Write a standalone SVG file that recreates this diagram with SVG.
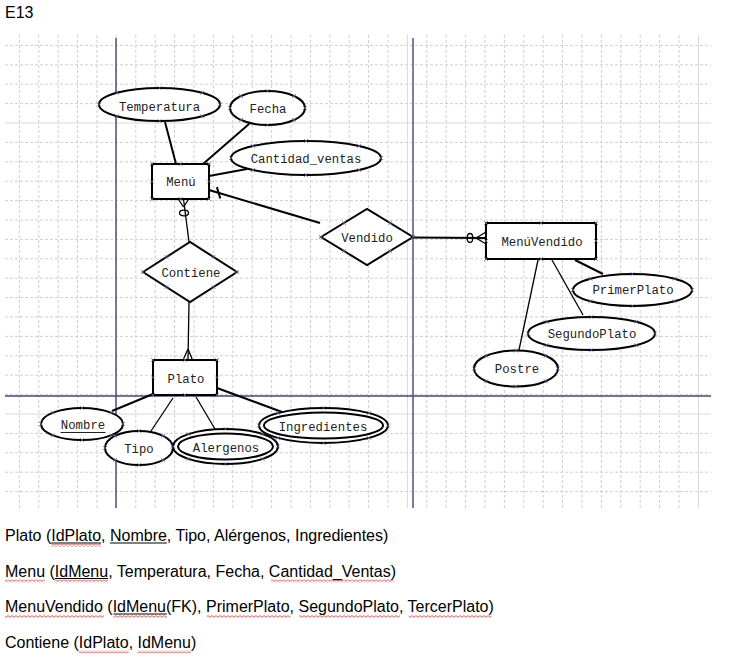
<svg xmlns="http://www.w3.org/2000/svg" xmlns:xlink="http://www.w3.org/1999/xlink" width="731" height="661" viewBox="0 0 731 661">
<style>
.gmin{stroke:#cfcfcf;stroke-width:1;stroke-dasharray:3 2;fill:none}
.gmaj{stroke:#d9d9d9;stroke-width:1;fill:none}
.blue{stroke:#474778;stroke-width:1.4;fill:none}
.s{fill:#fff;stroke:#000;stroke-width:2}
.l{stroke:#000;stroke-width:2;fill:none}
.th{stroke:#000;stroke-width:1.3;fill:none}
.cp{stroke:#6464a8;stroke-width:0.7;fill:none}
.d{font-family:"Liberation Mono","Courier New",monospace;font-size:12.3px;fill:#222;text-anchor:middle}
.t{font-family:"Liberation Sans",Arial,sans-serif;font-size:16px;fill:#000}
</style>
<defs>
<path id="cp" class="cp" d="M-2-2l4 4m0-4l-4 4"/>
<pattern id="wavy" patternUnits="userSpaceOnUse" width="4" height="3">
<path d="M0 0.6L2 2.4L4 0.6" stroke="#e02020" stroke-width="0.8" fill="none"/>
</pattern>
</defs>
<rect width="731" height="661" fill="#fff"/>
<g id="grid">
<path class="gmin" d="M19.4 35V508M38.8 35V508M58.2 35V508M77.6 35V508M97 35V508M135.8 35V508M155.2 35V508M174.6 35V508M194 35V508M213.4 35V508M232.8 35V508M252.2 35V508M271.6 35V508M291 35V508M310.4 35V508M329.8 35V508M349.2 35V508M368.6 35V508M388 35V508M426.8 35V508M446.2 35V508M465.6 35V508M485 35V508M504.4 35V508M523.8 35V508M543.2 35V508M562.6 35V508M582 35V508M601.4 35V508M620.8 35V508M640.2 35V508M659.6 35V508M679 35V508"/>
<path class="gmin" d="M5 45.4H711M5 64.8H711M5 84.2H711M5 103.6H711M5 142.4H711M5 161.8H711M5 181.2H711M5 200.6H711M5 220H711M5 239.4H711M5 258.8H711M5 278.2H711M5 297.6H711M5 317H711M5 336.4H711M5 355.8H711M5 375.2H711M5 394.6H711M5 433.4H711M5 452.8H711M5 472.2H711M5 491.6H711"/>
<path class="gmaj" d="M116.4 35V508M407.4 35V508M698.4 35V508M5 123H711M5 414H711"/>
<path class="blue" d="M116 38V508M413 38V508M5 396H711"/>
</g>
<g id="connectors">
<path class="l" d="M165 122L176 164"/>
<path class="l" d="M249 124L203 164"/>
<path class="l" d="M247 169L209 176"/>
<path class="l" d="M209 190L320 223"/>
<path class="l" d="M216.9 187.1L220.3 198.5"/>
<path class="l" d="M413 237.5L486 238"/>
<path class="th" d="M476 238L486 232M476 238L486 244"/>
<ellipse class="th" cx="470" cy="238" rx="2.8" ry="4.5" fill="#fff"/>
<path class="th" d="M189 242L183.5 199"/>
<path class="th" d="M183.5 207L178.5 199.5M183.5 207L188.5 199.5"/>
<ellipse class="th" cx="184" cy="213" rx="4.5" ry="2.8" fill="#fff"/>
<path class="th" d="M189 302L188 360"/>
<path class="th" d="M188 349L183 360M188 349L192.5 360"/>
<path class="l" d="M575 260L603 274"/>
<path class="th" d="M552 260L583 315"/>
<path class="th" d="M538 260L519 350"/>
<path class="l" d="M153 394L112 411"/>
<path class="th" d="M173 398L151 431"/>
<path class="th" d="M196 397L215 429"/>
<path class="l" d="M217 388L282 412"/>
</g>
<g id="temperatura">
<ellipse class="s" cx="159.5" cy="104.5" rx="60.5" ry="16.5"/>
<text class="d" x="159.5" y="110.5">Temperatura</text>
<use href="#cp" x="220" y="104.5"/><use href="#cp" x="99" y="104.5"/><use href="#cp" x="159.5" y="88"/><use href="#cp" x="159.5" y="121"/><use href="#cp" x="202.3" y="92.8"/><use href="#cp" x="202.3" y="116.2"/><use href="#cp" x="116.7" y="92.8"/><use href="#cp" x="116.7" y="116.2"/>
</g>
<g id="fecha">
<ellipse class="s" cx="267.5" cy="108" rx="37.5" ry="17"/>
<text class="d" x="268" y="113">Fecha</text>
<use href="#cp" x="305" y="108"/><use href="#cp" x="230" y="108"/><use href="#cp" x="267.5" y="91"/><use href="#cp" x="267.5" y="125"/><use href="#cp" x="294" y="96"/><use href="#cp" x="294" y="120"/><use href="#cp" x="241" y="96"/><use href="#cp" x="241" y="120"/>
</g>
<g id="cantidad_ventas">
<ellipse class="s" cx="306" cy="158" rx="75" ry="17"/>
<text class="d" x="306" y="162.5">Cantidad_ventas</text>
<use href="#cp" x="381" y="158"/><use href="#cp" x="231" y="158"/><use href="#cp" x="306" y="141"/><use href="#cp" x="306" y="175"/><use href="#cp" x="359" y="146"/><use href="#cp" x="359" y="170"/><use href="#cp" x="253" y="146"/><use href="#cp" x="253" y="170"/>
</g>
<g id="menu">
<rect class="s" x="152" y="164" width="57" height="35"/>
<text class="d" x="181" y="186">Menú</text>
<use href="#cp" x="152" y="164"/><use href="#cp" x="180.5" y="164"/><use href="#cp" x="209" y="164"/><use href="#cp" x="152" y="181.5"/><use href="#cp" x="209" y="181.5"/><use href="#cp" x="152" y="199"/><use href="#cp" x="180.5" y="199"/><use href="#cp" x="209" y="199"/>
</g>
<g id="vendido">
<path class="s" d="M321 237L367 209L413 237L367 265Z"/>
<text class="d" x="367" y="242">Vendido</text>
<use href="#cp" x="344" y="223"/><use href="#cp" x="390" y="223"/><use href="#cp" x="390" y="251"/><use href="#cp" x="344" y="251"/><use href="#cp" x="321" y="237"/><use href="#cp" x="413" y="237"/>
</g>
<g id="menuvendido">
<rect class="s" x="486" y="223" width="110" height="36"/>
<text class="d" x="542" y="246">MenúVendido</text>
<use href="#cp" x="486" y="223"/><use href="#cp" x="541" y="223"/><use href="#cp" x="596" y="223"/><use href="#cp" x="486" y="241"/><use href="#cp" x="596" y="241"/><use href="#cp" x="486" y="259"/><use href="#cp" x="541" y="259"/><use href="#cp" x="596" y="259"/>
</g>
<g id="primerplato">
<ellipse class="s" cx="632.5" cy="290" rx="59.5" ry="16"/>
<text class="d" x="633" y="294">PrimerPlato</text>
<use href="#cp" x="692" y="290"/><use href="#cp" x="573" y="290"/><use href="#cp" x="632.5" y="274"/><use href="#cp" x="632.5" y="306"/><use href="#cp" x="674.6" y="278.7"/><use href="#cp" x="674.6" y="301.3"/><use href="#cp" x="590.4" y="278.7"/><use href="#cp" x="590.4" y="301.3"/>
</g>
<g id="segundoplato">
<ellipse class="s" cx="591.5" cy="333.5" rx="63.5" ry="16.5"/>
<text class="d" x="592" y="338">SegundoPlato</text>
<use href="#cp" x="655" y="333.5"/><use href="#cp" x="528" y="333.5"/><use href="#cp" x="591.5" y="317"/><use href="#cp" x="591.5" y="350"/><use href="#cp" x="636.4" y="321.8"/><use href="#cp" x="636.4" y="345.2"/><use href="#cp" x="546.6" y="321.8"/><use href="#cp" x="546.6" y="345.2"/>
</g>
<g id="postre">
<ellipse class="s" cx="516" cy="368.5" rx="42" ry="18"/>
<text class="d" x="517" y="372.5">Postre</text>
<use href="#cp" x="558" y="368.5"/><use href="#cp" x="474" y="368.5"/><use href="#cp" x="516" y="350.5"/><use href="#cp" x="516" y="386.5"/><use href="#cp" x="545.7" y="355.8"/><use href="#cp" x="545.7" y="381.2"/><use href="#cp" x="486.3" y="355.8"/><use href="#cp" x="486.3" y="381.2"/>
</g>
<g id="contiene">
<path class="s" d="M143 272L190 242L237 272L190 302Z"/>
<text class="d" x="191" y="277">Contiene</text>
<use href="#cp" x="166.5" y="257"/><use href="#cp" x="213.5" y="257"/><use href="#cp" x="213.5" y="287"/><use href="#cp" x="166.5" y="287"/><use href="#cp" x="143" y="272"/><use href="#cp" x="237" y="272"/>
</g>
<g id="plato">
<rect class="s" x="153" y="360" width="64" height="35"/>
<text class="d" x="186" y="383">Plato</text>
<use href="#cp" x="153" y="360"/><use href="#cp" x="185" y="360"/><use href="#cp" x="217" y="360"/><use href="#cp" x="153" y="377.5"/><use href="#cp" x="217" y="377.5"/><use href="#cp" x="153" y="395"/><use href="#cp" x="185" y="395"/><use href="#cp" x="217" y="395"/>
</g>
<g id="nombre">
<ellipse class="s" cx="82" cy="424" rx="41" ry="16"/>
<text class="d" x="83" y="429">Nombre</text>
<path d="M60.5 432.5H105.5" stroke="#222" stroke-width="1"/>
<use href="#cp" x="123" y="424"/><use href="#cp" x="41" y="424"/><use href="#cp" x="82" y="408"/><use href="#cp" x="82" y="440"/><use href="#cp" x="111" y="412.7"/><use href="#cp" x="111" y="435.3"/><use href="#cp" x="53" y="412.7"/><use href="#cp" x="53" y="435.3"/>
</g>
<g id="tipo">
<ellipse class="s" cx="139" cy="448" rx="34" ry="17"/>
<text class="d" x="139" y="453">Tipo</text>
<use href="#cp" x="173" y="448"/><use href="#cp" x="105" y="448"/><use href="#cp" x="139" y="431"/><use href="#cp" x="139" y="465"/><use href="#cp" x="163" y="436"/><use href="#cp" x="163" y="460"/><use href="#cp" x="115" y="436"/><use href="#cp" x="115" y="460"/>
</g>
<g id="alergenos">
<ellipse class="s" cx="225.5" cy="446.5" rx="52.5" ry="17.5"/>
<ellipse class="s" cx="225.5" cy="446.5" rx="47.5" ry="13"/>
<text class="d" x="226" y="452">Alergenos</text>
<use href="#cp" x="278" y="446.5"/><use href="#cp" x="173" y="446.5"/><use href="#cp" x="225.5" y="429"/><use href="#cp" x="225.5" y="464"/><use href="#cp" x="262.6" y="434.1"/><use href="#cp" x="262.6" y="458.9"/><use href="#cp" x="188.4" y="434.1"/><use href="#cp" x="188.4" y="458.9"/>
</g>
<g id="ingredientes">
<ellipse class="s" cx="323.5" cy="425.5" rx="64.5" ry="17.5"/>
<ellipse class="s" cx="323.5" cy="425.5" rx="59.5" ry="13"/>
<text class="d" x="323" y="431">Ingredientes</text>
<use href="#cp" x="388" y="425.5"/><use href="#cp" x="259" y="425.5"/><use href="#cp" x="323.5" y="408"/><use href="#cp" x="323.5" y="443"/><use href="#cp" x="369.1" y="413.1"/><use href="#cp" x="369.1" y="437.9"/><use href="#cp" x="277.9" y="413.1"/><use href="#cp" x="277.9" y="437.9"/>
</g>
<g id="texts">
<text class="t" x="5" y="18">E13</text>
<text class="t" x="5" y="541">Plato (IdPlato, Nombre, Tipo, Alérgenos, Ingredientes)</text>
<text class="t" x="5" y="576.5">Menu (IdMenu, Temperatura, Fecha, Cantidad_Ventas)</text>
<text class="t" x="5" y="612">MenuVendido (IdMenu(FK), PrimerPlato, SegundoPlato, TercerPlato)</text>
<text class="t" x="5" y="647.5">Contiene (IdPlato, IdMenu)</text>
<path d="M51.2 543H101M109.9 543H166.8M54.8 578.5H108.1M113.5 614H166.9" stroke="#000" stroke-width="1"/>
<rect x="51.2" y="544" width="49.8" height="3" fill="url(#wavy)"/>
<rect x="5" y="579.5" width="40" height="3" fill="url(#wavy)"/>
<rect x="54.8" y="579.5" width="53.3" height="3" fill="url(#wavy)"/>
<rect x="270.9" y="579.5" width="122.7" height="3" fill="url(#wavy)"/>
<rect x="5" y="615" width="98.7" height="3" fill="url(#wavy)"/>
<rect x="113.5" y="615" width="53.4" height="3" fill="url(#wavy)"/>
<rect x="206.9" y="615" width="83.6" height="3" fill="url(#wavy)"/>
<rect x="299.4" y="615" width="100.5" height="3" fill="url(#wavy)"/>
<rect x="408.8" y="615" width="82.7" height="3" fill="url(#wavy)"/>
<rect x="78.8" y="650.5" width="49.8" height="3" fill="url(#wavy)"/>
<rect x="137.5" y="650.5" width="53.4" height="3" fill="url(#wavy)"/>
</g>
</svg>
